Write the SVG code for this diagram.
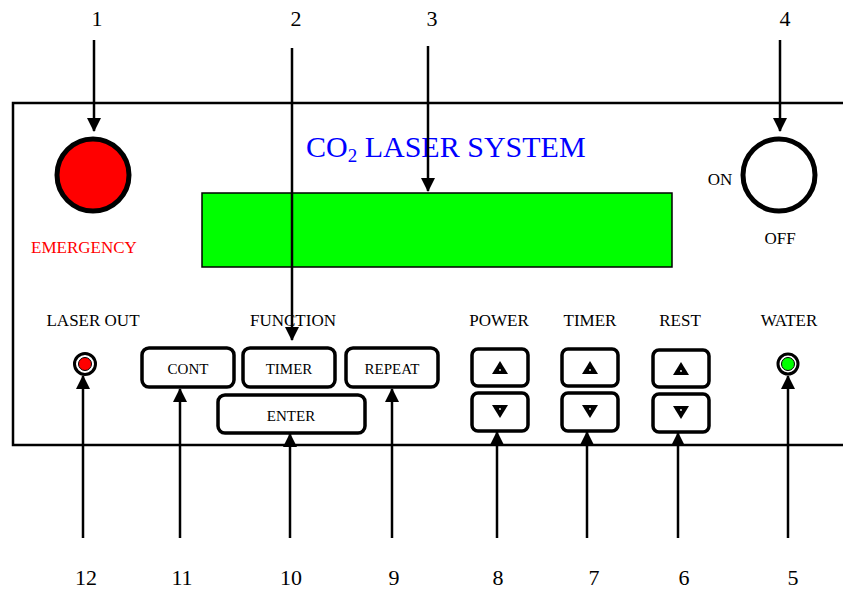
<svg xmlns="http://www.w3.org/2000/svg" width="843" height="590" viewBox="0 0 843 590">
<defs>
<marker id="ah" markerUnits="userSpaceOnUse" markerWidth="14" markerHeight="16" viewBox="0 0 14 16" refX="13" refY="7" orient="auto">
<path d="M0,0 L14,7 L0,14 Z" fill="#000"/>
</marker>
<style>
text{font-family:"Liberation Serif","Times New Roman",serif;fill:#000}
.num{font-size:22px;text-anchor:middle}
.lbl{font-size:17px;text-anchor:middle}
.btn{fill:#fff;stroke:#000;stroke-width:3.5}
.btxt{font-size:15px;text-anchor:middle}
.conn line{stroke:#000;stroke-width:2.5;marker-end:url(#ah)}
.tri{fill:#000}
.dot{fill:#fff}
</style>
</defs>
<rect width="843" height="590" fill="#fff"/>

<g id="panel">
<rect x="13" y="103" width="840" height="342" fill="#fff" stroke="#000" stroke-width="2.5"/>
</g>

<g id="title">
<text x="306" y="157" style="font-size:30px;fill:#0000ff">CO<tspan font-size="19" dy="5">2</tspan><tspan dy="-5"> LASER SYSTEM</tspan></text>
</g>

<g id="display">
<rect x="202" y="193" width="470" height="74" fill="#00ff00" stroke="#000" stroke-width="1.5"/>
</g>

<g id="emergency">
<circle cx="93" cy="175" r="36" fill="#ff0000" stroke="#000" stroke-width="5"/>
<text x="84" y="253" class="lbl" style="fill:#ff0000">EMERGENCY</text>
</g>

<g id="onoff">
<circle cx="779" cy="175" r="36" fill="#fff" stroke="#000" stroke-width="5"/>
<text x="720" y="185" class="lbl">ON</text>
<text x="780" y="244" class="lbl">OFF</text>
</g>

<g id="laser-out">
<text x="93" y="326" class="lbl">LASER OUT</text>
<circle cx="85" cy="364" r="10.5" fill="#fff" stroke="#000" stroke-width="3"/>
<circle cx="85" cy="364" r="6.5" fill="#ff0000" stroke="#000" stroke-width="1"/>
</g>

<g id="function">
<text x="293" y="326" class="lbl">FUNCTION</text>
</g>

<g id="btn-cont">
<rect x="142" y="348" width="92" height="39" rx="7" class="btn"/>
<text x="188" y="374" class="btxt">CONT</text>
</g>
<g id="btn-timer">
<rect x="243" y="348" width="92" height="39" rx="7" class="btn"/>
<text x="289" y="374" class="btxt">TIMER</text>
</g>
<g id="btn-repeat">
<rect x="346" y="348" width="92" height="39" rx="7" class="btn"/>
<text x="392" y="374" class="btxt">REPEAT</text>
</g>
<g id="btn-enter">
<rect x="218" y="395" width="147" height="38" rx="7" class="btn"/>
<text x="291" y="421" class="btxt">ENTER</text>
</g>

<g id="power">
<text x="499" y="326" class="lbl">POWER</text>
<rect x="472" y="349" width="56" height="37" rx="6" class="btn"/>
<path d="M500,361 L508,374 L492,374 Z" class="tri"/>
<circle cx="500" cy="370" r="0.9" class="dot"/>
<rect x="472" y="393" width="56" height="38" rx="6" class="btn"/>
<path d="M492,405 L508,405 L500,418 Z" class="tri"/>
<circle cx="500" cy="409" r="0.9" class="dot"/>
</g>

<g id="timer">
<text x="590" y="326" class="lbl">TIMER</text>
<rect x="562" y="349" width="56" height="37" rx="6" class="btn"/>
<path d="M590,361 L598,374 L582,374 Z" class="tri"/>
<circle cx="590" cy="370" r="0.9" class="dot"/>
<rect x="562" y="393" width="56" height="38" rx="6" class="btn"/>
<path d="M582,405 L598,405 L590,418 Z" class="tri"/>
<circle cx="590" cy="409" r="0.9" class="dot"/>
</g>

<g id="rest">
<text x="680" y="326" class="lbl">REST</text>
<rect x="653" y="350" width="56" height="37" rx="6" class="btn"/>
<path d="M681,362 L689,375 L673,375 Z" class="tri"/>
<circle cx="681" cy="371" r="0.9" class="dot"/>
<rect x="653" y="394" width="56" height="38" rx="6" class="btn"/>
<path d="M673,406 L689,406 L681,419 Z" class="tri"/>
<circle cx="681" cy="410" r="0.9" class="dot"/>
</g>

<g id="water">
<text x="789" y="326" class="lbl">WATER</text>
<circle cx="788" cy="364" r="10" fill="#fff" stroke="#000" stroke-width="3"/>
<circle cx="788" cy="364" r="6.5" fill="#00ff00" stroke="#000" stroke-width="1"/>
</g>

<g id="numbers">
<text x="97" y="26" class="num">1</text>
<text x="296" y="26" class="num">2</text>
<text x="432" y="26" class="num">3</text>
<text x="785" y="26" class="num">4</text>
<text x="793" y="585" class="num">5</text>
<text x="684" y="585" class="num">6</text>
<text x="594" y="585" class="num">7</text>
<text x="498" y="585" class="num">8</text>
<text x="394" y="585" class="num">9</text>
<text x="291" y="585" class="num">10</text>
<text x="182" y="585" class="num">11</text>
<text x="86" y="585" class="num">12</text>
</g>

<g id="connectors" class="conn">
<line x1="94" y1="40" x2="94" y2="131"/>
<line x1="292" y1="48" x2="292" y2="340"/>
<line x1="428" y1="46" x2="428" y2="191"/>
<line x1="780" y1="40" x2="780" y2="131"/>
<line x1="788" y1="538" x2="788" y2="376"/>
<line x1="678" y1="538" x2="678" y2="433"/>
<line x1="587" y1="538" x2="587" y2="432"/>
<line x1="497" y1="538" x2="497" y2="432"/>
<line x1="392" y1="538" x2="392" y2="389"/>
<line x1="290" y1="538" x2="290" y2="434"/>
<line x1="180" y1="538" x2="180" y2="389"/>
<line x1="83" y1="538" x2="83" y2="376"/>
</g>
</svg>
